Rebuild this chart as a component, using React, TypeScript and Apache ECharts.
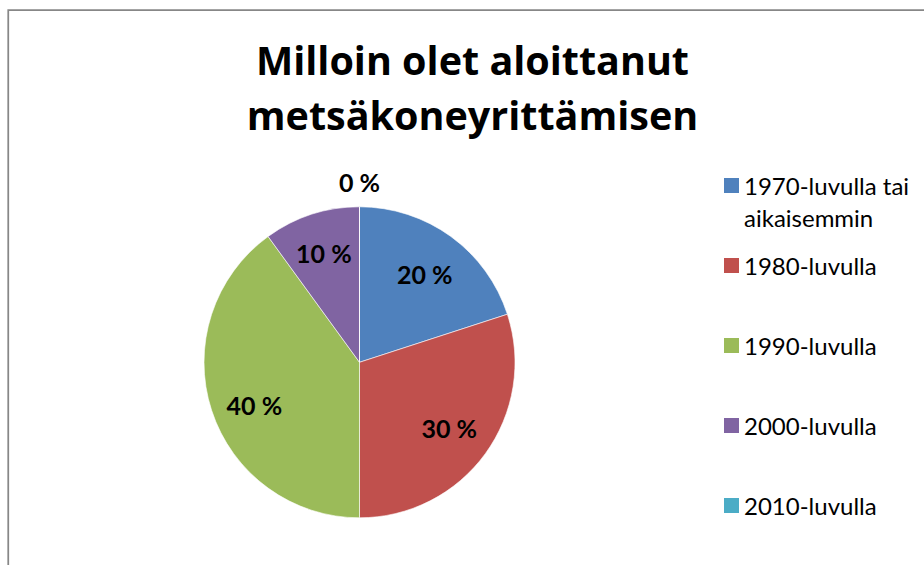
import React, { useEffect, useRef } from "react";
import * as echarts from "echarts";

const categories = [
  "1970-luvulla tai aikaisemmin",
  "1980-luvulla",
  "1990-luvulla",
  "2000-luvulla",
  "2010-luvulla",
];
const legendLines = [
  ["1970-luvulla tai", "aikaisemmin"],
  ["1980-luvulla"],
  ["1990-luvulla"],
  ["2000-luvulla"],
  ["2010-luvulla"],
];
const shares = [20, 30, 40, 10, 0];
const colors = ["#4F81BD", "#C0504D", "#9BBB59", "#8064A2", "#4BACC6"];
const titleLines = ["Milloin olet aloittanut", "metsäkoneyrittämisen"];

const FONT = "Lato, 'Noto Sans', sans-serif";
const TITLE_FONT = "'Open Sans', Lato, sans-serif";
const CENTER = [359.5, 362.3];
const R = 155.5;

// small label nudges (like Excel's "best fit")
const labelNudge: (number[] | null)[] = [[-2.5, 4.5], [-3.5, -2], [4.5, 7], null, null];

export default function App() {
  const ref = useRef<HTMLDivElement>(null);
  useEffect(() => {
    if (!ref.current) return;
    const chart = echarts.init(ref.current, undefined, { renderer: "svg" });
    const pctLabel = (p: any) => `${Math.round(p.percent)} %`;
    const labelFont = {
      fontFamily: FONT,
      fontWeight: "bold" as const,
      fontSize: 25,
      color: "#000",
      overflow: "none" as const,
    };
    chart.setOption({
      animation: false,
      backgroundColor: "#fff",
      title: {
        text: titleLines.join("\n"),
        left: 472.5,
        top: 33,
        padding: 0,
        textAlign: "center",
        textStyle: {
          fontFamily: TITLE_FONT,
          fontWeight: "bold",
          fontSize: 39.5,
          lineHeight: 54.5,
          color: "#000",
        },
      },
      legend: {
        orient: "vertical",
        left: 724,
        top: 137.5,
        padding: 0,
        itemGap: -16,
        itemWidth: 15,
        itemHeight: 15,
        icon: "rect",
        selectedMode: false,
        itemStyle: { borderWidth: 0 },
        data: categories,
        formatter: (name: string) => {
          const i = categories.indexOf(name);
          const lines = legendLines[i];
          return "\n" + lines[0] + "\n" + (lines[1] ?? "");
        },
        textStyle: {
          fontFamily: FONT,
          fontSize: 24,
          lineHeight: 32,
          color: "#000",
        },
      },
      graphic: [
        {
          type: "rect",
          shape: { x: 8.25, y: 10, width: 1200, height: 1200 },
          style: { fill: "none", stroke: "#878787", lineWidth: 1.75 },
          silent: true,
          z: 100,
        },
      ],
      series: [
        {
          type: "pie",
          center: CENTER,
          radius: [0, R],
          startAngle: 90,
          clockwise: true,
          avoidLabelOverlap: false,
          label: { show: false },
          labelLine: { show: false },
          emphasis: { disabled: true },
          itemStyle: { borderColor: "#fff", borderWidth: 0.6 },
          data: categories.map((name, i) => ({
            name,
            value: shares[i],
            itemStyle: { color: colors[i] },
          })),
        },
        {
          type: "pie",
          center: CENTER,
          radius: [69, R],
          startAngle: 90,
          clockwise: true,
          silent: true,
          avoidLabelOverlap: false,
          itemStyle: { color: "transparent", borderWidth: 0 },
          labelLine: { show: false },
          emphasis: { disabled: true },
          label: { show: true, position: "inside", formatter: pctLabel, ...labelFont },
          data: categories.map((name, i) => ({
            name,
            value: shares[i],
            label:
              i === 4
                ? { show: false }
                : labelNudge[i]
                ? { offset: labelNudge[i] }
                : {},
          })),
        },
        {
          type: "pie",
          center: CENTER,
          radius: [170, 184],
          startAngle: 90,
          clockwise: true,
          silent: true,
          avoidLabelOverlap: false,
          itemStyle: { color: "transparent", borderWidth: 0 },
          labelLine: { show: false },
          emphasis: { disabled: true },
          label: { show: false, position: "inside", formatter: pctLabel, ...labelFont },
          data: categories.map((name, i) => ({
            name,
            value: shares[i],
            label: { show: i === 4 },
          })),
        },
      ],
    });
    return () => chart.dispose();
  }, []);
  return (
    <div
      ref={ref}
      style={{ position: "fixed", left: 0, top: 0, width: 924, height: 565 }}
    />
  );
}
